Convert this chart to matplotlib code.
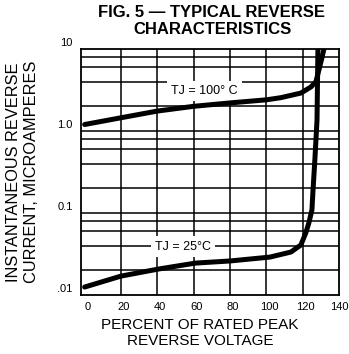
import matplotlib
matplotlib.use('Agg')
import matplotlib.pyplot as plt
import matplotlib.transforms as mtransforms

plt.rcParams['font.family'] = ['Liberation Sans', 'DejaVu Sans']

# percent of rated peak reverse voltage vs reverse current (uA)
pct_100 = [0, 20, 40, 60, 80, 100, 108, 119, 124.6, 127.3, 128.9, 130.6, 131.7, 133]
cur_100 = [1.2, 1.45, 1.75, 2.0, 2.2, 2.4, 2.55, 2.9, 3.45, 4.0, 5.5, 7.8, 10, 15]

pct_25 = [0, 20, 41, 61, 80, 102, 113.5, 119, 121.7, 123.4, 125.1, 125.7, 126.7, 127.9, 128.4, 128.6]
cur_25 = [0.0125, 0.017, 0.0208, 0.0245, 0.026, 0.029, 0.0334, 0.0407, 0.057, 0.0755,
          0.109, 0.19, 0.44, 1.36, 10, 15]

x_ticks = [0, 20, 40, 60, 80, 100, 120, 140]
y_ticks = [0.01, 0.1, 1.0, 10]
y_tick_labels = ['.01', '0.1', '1.0', '10']
h_grid = [0.02, 0.04, 0.06, 0.08, 0.1, 0.2, 0.4, 0.6, 0.8, 1.0, 2, 4, 6, 8]
v_grid = [20, 40, 60, 80, 100, 120]

fig = plt.figure(figsize=(3.49, 3.54), dpi=100)
ax = fig.add_axes([81 / 349, 1 - 295 / 354, 258 / 349, 246 / 354])
ax.set_yscale('log')
ax.set_xlim(-2, 140)
ax.set_ylim(0.01, 10)

for v in h_grid:
    ax.axhline(v, color='black', lw=1.1, zorder=1)
for v in v_grid:
    ax.axvline(v, color='black', lw=1.1, zorder=1)

ax.plot(pct_100, cur_100, color='black', lw=3.6, solid_capstyle='round', zorder=4)
ax.plot(pct_25, cur_25, color='black', lw=3.6, solid_capstyle='round', zorder=4)

box = dict(facecolor='white', edgecolor='none', pad=3)
ax.text(66, 3.05, 'TJ = 100\u00b0 C', fontsize=9, ha='center', va='center', bbox=box, zorder=3)
ax.text(54, 0.039, 'TJ = 25\u00b0C', fontsize=9, ha='center', va='center', bbox=box, zorder=3)

for s in ax.spines.values():
    s.set_linewidth(1.3)

ax.set_xticks(x_ticks)
ax.set_xticklabels([str(t) for t in x_ticks], fontsize=8)
ax.set_yticks(y_ticks)
ax.set_yticklabels(y_tick_labels, fontsize=8)
ax.minorticks_off()
ax.tick_params(length=0, pad=5)
ax.tick_params(axis='y', pad=6)
for lbl in ax.get_yticklabels():
    lbl.set_transform(lbl.get_transform() + mtransforms.ScaledTranslation(0, 7 / 100, fig.dpi_scale_trans))
for lbl in ax.get_xticklabels()[:-1]:
    lbl.set_transform(lbl.get_transform() + mtransforms.ScaledTranslation(3 / 100, 0, fig.dpi_scale_trans))

fig.text(212 / 349, 1 - 21 / 354, 'FIG. 5 \u2014 TYPICAL REVERSE\nCHARACTERISTICS',
         ha='center', va='center', fontsize=12, fontweight='bold', linespacing=1.2)
fig.text(200 / 349, 1 - 333 / 354, 'PERCENT OF RATED PEAK\nREVERSE VOLTAGE',
         ha='center', va='center', fontsize=11, linespacing=1.15)
fig.text(23 / 349, 1 - 172 / 354, 'INSTANTANEOUS REVERSE\nCURRENT, MICROAMPERES',
         ha='center', va='center', rotation=90, fontsize=11.8, linespacing=1.25)

fig.savefig('out.png', dpi=100)
